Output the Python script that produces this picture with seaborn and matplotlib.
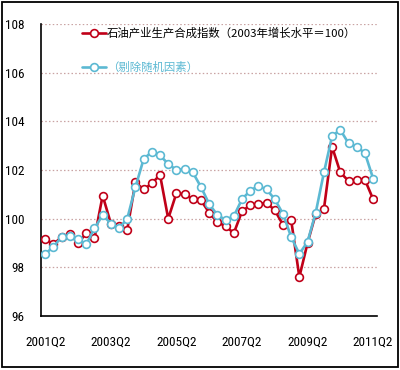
import matplotlib
matplotlib.use("Agg")
import matplotlib.pyplot as plt
from matplotlib.patches import Rectangle
from matplotlib.ticker import FixedLocator, FixedFormatter
from matplotlib import font_manager
import seaborn as sns
import pandas as pd
import numpy as np

# ---- data ----
quarters = [f"{y}Q{q}" for y in range(2001, 2012) for q in range(1, 5)]
quarters = quarters[1:42]  # 2001Q2 .. 2011Q2

index_raw = [99.15, 98.95, 99.25, 99.35, 99.0, 99.4, 99.2, 100.95, 99.8, 99.7,
             99.55, 101.5, 101.2, 101.45, 101.8, 100.0, 101.05, 101.0, 100.8, 100.75,
             100.25, 99.85, 99.7, 99.4, 100.3, 100.55, 100.6, 100.65, 100.35, 99.75,
             99.95, 97.6, 99.0, 100.2, 100.4, 102.95, 101.9, 101.55, 101.6, 101.6,
             100.8]
index_adj = [98.55, 98.85, 99.25, 99.3, 99.15, 98.95, 99.6, 100.15, 99.8, 99.6,
             100.0, 101.3, 102.45, 102.75, 102.6, 102.25, 102.0, 102.05, 101.9, 101.3,
             100.6, 100.15, 99.95, 100.1, 100.8, 101.15, 101.35, 101.2, 100.8, 100.2,
             99.25, 98.55, 99.05, 100.25, 101.9, 103.4, 103.65, 103.1, 102.95, 102.7,
             101.65]

label_raw = "石油产业生产合成指数（2003年增长水平＝100）"
label_adj = "（剔除随机因素）"
label_quarters = ["2001Q2", "2003Q2", "2005Q2", "2007Q2", "2009Q2", "2011Q2"]
yticks = [96, 98, 100, 102, 104, 106, 108]

red = "#C00018"
blue = "#5CB9D3"

sns.set_style("white")
plt.rcParams['font.family'] = ['Noto Sans CJK SC', 'DejaVu Sans']

# narrow font for the tick labels, if available
names = {f.name for f in font_manager.fontManager.ttflist}
narrow = None
for cand in ["Liberation Sans Narrow", "Arial Narrow", "Roboto Condensed",
             "DejaVu Sans Condensed"]:
    if cand in names:
        narrow = cand
        break
condensed_dejavu = any(f.name == "DejaVu Sans" and f.stretch == "condensed"
                       for f in font_manager.fontManager.ttflist)
if narrow:
    tick_fp = font_manager.FontProperties(family=narrow, size=9.5)
elif condensed_dejavu:
    tick_fp = font_manager.FontProperties(family="DejaVu Sans", stretch="condensed", size=9)
else:
    tick_fp = font_manager.FontProperties(family="DejaVu Sans", size=8)

df = pd.DataFrame({"pos": np.arange(len(quarters)), "q": quarters,
                   "raw": index_raw, "adj": index_adj})

fig = plt.figure(figsize=(4.0, 3.7), dpi=100)
ax = fig.add_axes([0.103, 0.146, 0.84, 0.789])

sns.lineplot(data=df, x="pos", y="raw", ax=ax, color=red, linewidth=1.9,
             marker="o", markersize=5.6, markerfacecolor="white",
             markeredgecolor=red, markeredgewidth=1.2, label=label_raw, zorder=3)
sns.lineplot(data=df, x="pos", y="adj", ax=ax, color=blue, linewidth=1.9,
             marker="o", markersize=5.6, markerfacecolor="white",
             markeredgecolor=blue, markeredgewidth=1.2, label=label_adj, zorder=4)

ax.set_xlim(-0.5, len(quarters) - 0.5)
ax.set_ylim(96, 108)
ax.set_xlabel("")
ax.set_ylabel("")

# y axis
ax.set_yticks(yticks)
ax.set_yticklabels([str(v) for v in yticks])
for v in yticks[1:]:
    ax.axhline(v, color="#C9A3A3", linestyle=(0, (1.2, 1.8)), linewidth=0.9, zorder=1)

# x axis: tick marks every 2 categories (boundaries), labels every 8 categories
label_pos = [quarters.index(q) for q in label_quarters]
ax.xaxis.set_major_locator(FixedLocator(label_pos))
ax.xaxis.set_major_formatter(FixedFormatter(label_quarters))
ax.xaxis.set_minor_locator(FixedLocator(np.arange(-0.5, len(quarters) - 0.5, 2)))
ax.tick_params(axis="x", which="major", length=0, pad=14)
ax.tick_params(axis="x", which="minor", length=4, width=1, direction="in", color="black")
ax.tick_params(axis="y", which="major", length=4, width=1, direction="in", color="black", pad=12)

for t in ax.get_xticklabels() + ax.get_yticklabels():
    t.set_fontproperties(tick_fp)
    t.set_color("black")

for s in ["top", "right"]:
    ax.spines[s].set_visible(False)
for s in ["left", "bottom"]:
    ax.spines[s].set_color("black")
    ax.spines[s].set_linewidth(1.2)

leg = ax.legend(loc="upper left", bbox_to_anchor=(0.1, 1.012), frameon=False,
                fontsize=8.2, handlelength=2.1, handletextpad=0.1,
                labelspacing=2.0, borderaxespad=0.2)
leg.get_texts()[0].set_color("black")
leg.get_texts()[1].set_color(blue)

# outer frame
fig.patches.append(Rectangle((0.006, 0.008), 0.988, 0.986, transform=fig.transFigure,
                             fill=False, edgecolor="black", linewidth=1.3))

fig.savefig("out.png", dpi=100)
